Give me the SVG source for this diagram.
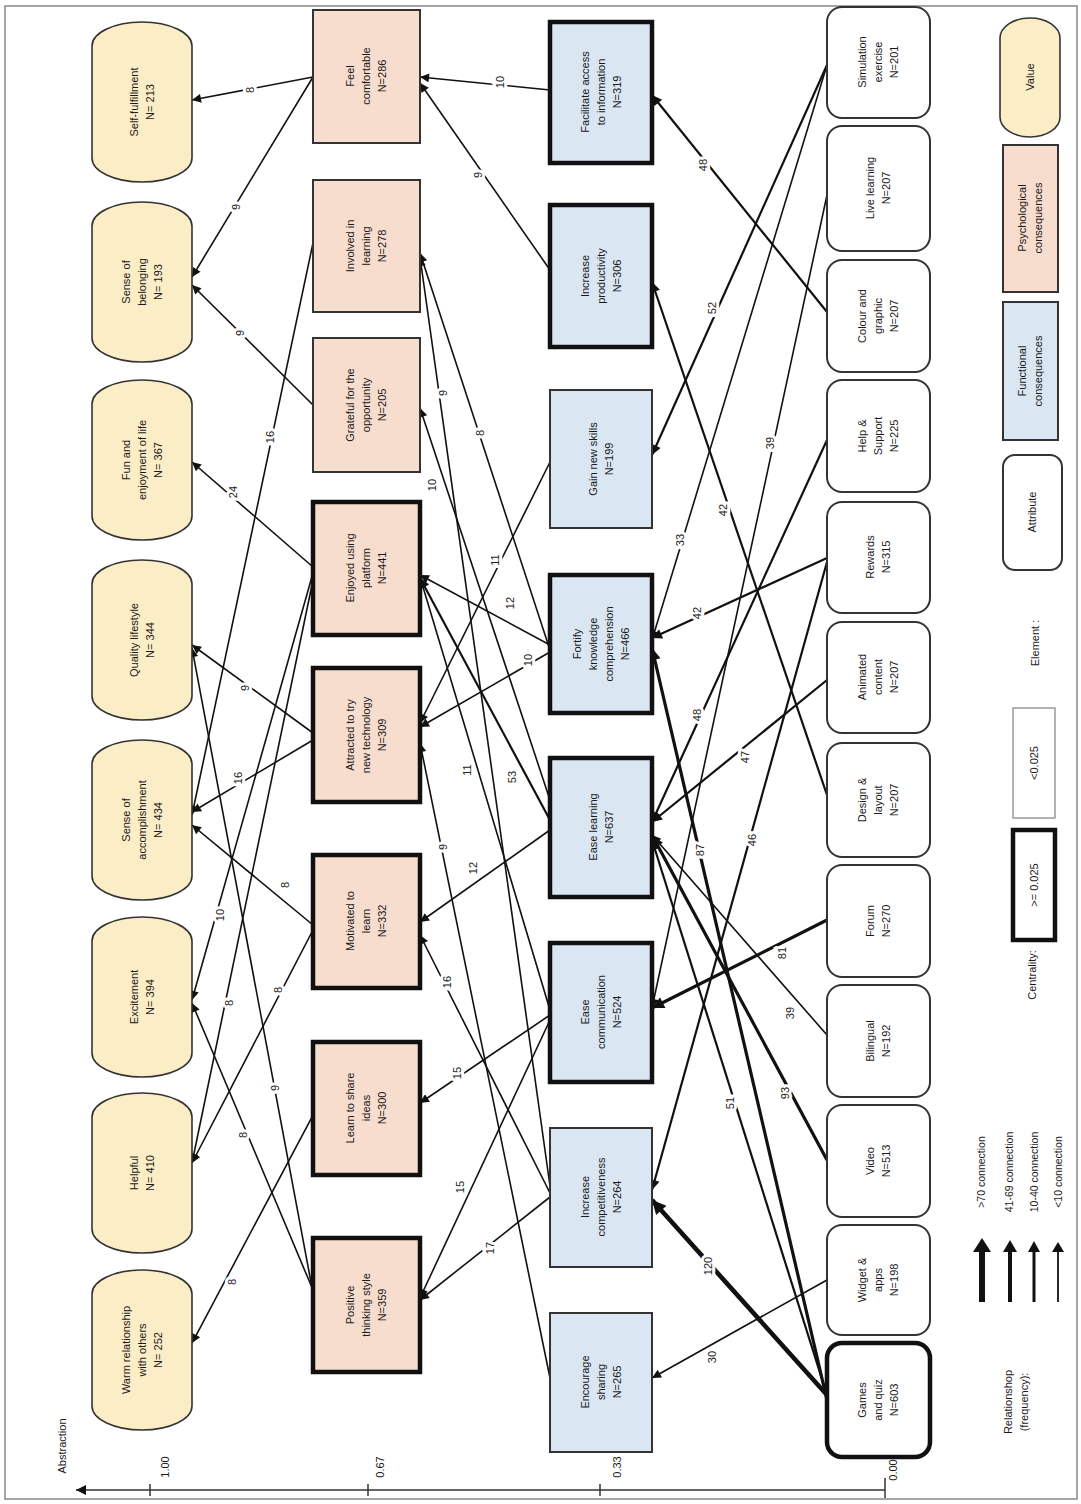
<svg xmlns="http://www.w3.org/2000/svg" width="1081" height="1504" viewBox="0 0 1081 1504">
<style>
text{font-family:"Liberation Sans",Arial,sans-serif;fill:#1a1a1a}
.nt{font-size:11px;text-anchor:middle}
.lb{font-size:11px;text-anchor:middle;stroke:#fff;stroke-width:6px;paint-order:stroke;fill:#222}
.val{fill:#FBEDC6;stroke:#333;stroke-width:1.6}
.psy{fill:#F7DDCD;stroke:#333;stroke-width:2}
.fun{fill:#DBE6F3;stroke:#333;stroke-width:2}
.att{fill:#fff;stroke:#333;stroke-width:2}
.bold{stroke:#111;stroke-width:4.5}
.c1{stroke:#111;stroke-width:1.6;fill:none;marker-end:url(#a1)}
.c2{stroke:#111;stroke-width:2.2;fill:none;marker-end:url(#a2)}
.c3{stroke:#111;stroke-width:3.2;fill:none;marker-end:url(#a3)}
.c4{stroke:#111;stroke-width:4.6;fill:none;marker-end:url(#a4)}
</style>
<defs>
<marker id="a1" viewBox="0 0 10 10" refX="10" refY="5" markerWidth="11" markerHeight="9" markerUnits="userSpaceOnUse" orient="auto"><path d="M0,0 L10,5 L0,10 z" fill="#111"/></marker>
<marker id="a2" viewBox="0 0 10 10" refX="10" refY="5" markerWidth="12" markerHeight="10" markerUnits="userSpaceOnUse" orient="auto"><path d="M0,0 L10,5 L0,10 z" fill="#111"/></marker>
<marker id="a3" viewBox="0 0 10 10" refX="10" refY="5" markerWidth="14" markerHeight="12" markerUnits="userSpaceOnUse" orient="auto"><path d="M0,0 L10,5 L0,10 z" fill="#111"/></marker>
<marker id="a4" viewBox="0 0 10 10" refX="10" refY="5" markerWidth="16" markerHeight="14" markerUnits="userSpaceOnUse" orient="auto"><path d="M0,0 L10,5 L0,10 z" fill="#111"/></marker>
</defs>
<rect x="0" y="0" width="1081" height="1504" fill="#fff"/>
<rect x="5" y="6" width="1072" height="1493" fill="none" stroke="#888" stroke-width="1.5"/>

<g id="connectors">
<!-- psychological -> values -->
<line class="c1" x1="313" y1="77" x2="192" y2="100"/><text class="lb" transform="translate(250,90) rotate(-90)" y="4">8</text>
<line class="c1" x1="313" y1="77" x2="192" y2="277"/><text class="lb" transform="translate(236,207) rotate(-90)" y="4">9</text>
<line class="c1" x1="313" y1="405" x2="192" y2="285"/><text class="lb" transform="translate(240,333) rotate(-90)" y="4">9</text>
<line class="c1" x1="313" y1="243" x2="192" y2="815"/><text class="lb" transform="translate(270,437) rotate(-90)" y="4">16</text>
<line class="c1" x1="313" y1="567" x2="192" y2="462"/><text class="lb" transform="translate(233,492) rotate(-90)" y="4">24</text>
<line class="c1" x1="313" y1="733" x2="192" y2="645"/><text class="lb" transform="translate(245,688) rotate(-90)" y="4">9</text>
<line class="c1" x1="313" y1="1293" x2="192" y2="648"/><text class="lb" transform="translate(275,1088) rotate(-90)" y="4">9</text>
<line class="c1" x1="313" y1="740" x2="192" y2="812"/><text class="lb" transform="translate(238,778) rotate(-90)" y="4">16</text>
<line class="c1" x1="313" y1="925" x2="192" y2="825"/><text class="lb" transform="translate(285,885) rotate(-90)" y="4">8</text>
<line class="c1" x1="313" y1="573" x2="192" y2="1000"/><text class="lb" transform="translate(220,915) rotate(-90)" y="4">10</text>
<line class="c1" x1="313" y1="580" x2="192" y2="1163"/><text class="lb" transform="translate(229,1003) rotate(-90)" y="4">8</text>
<line class="c1" x1="313" y1="930" x2="192" y2="1163"/><text class="lb" transform="translate(278,990) rotate(-90)" y="4">8</text>
<line class="c1" x1="313" y1="1290" x2="192" y2="1003"/><text class="lb" transform="translate(243,1135) rotate(-90)" y="4">8</text>
<line class="c1" x1="313" y1="1115" x2="192" y2="1343"/><text class="lb" transform="translate(232,1282) rotate(-90)" y="4">8</text>
<!-- functional -> psychological -->
<line class="c1" x1="550" y1="90" x2="420" y2="77"/><text class="lb" transform="translate(500,82) rotate(-90)" y="4">10</text>
<line class="c1" x1="550" y1="270" x2="420" y2="83"/><text class="lb" transform="translate(478,175) rotate(-90)" y="4">9</text>
<line class="c1" x1="550" y1="650" x2="420" y2="253"/><text class="lb" transform="translate(480,433) rotate(-90)" y="4">8</text>
<line class="c1" x1="550" y1="1186" x2="420" y2="257"/><text class="lb" transform="translate(443,393) rotate(-90)" y="4">9</text>
<line class="c1" x1="550" y1="800" x2="420" y2="408"/><text class="lb" transform="translate(432,485) rotate(-90)" y="4">10</text>
<line class="c1" x1="550" y1="462" x2="420" y2="723"/><text class="lb" transform="translate(495,560) rotate(-90)" y="4">11</text>
<line class="c1" x1="550" y1="645" x2="420" y2="575"/><text class="lb" transform="translate(510,603) rotate(-90)" y="4">12</text>
<line class="c1" x1="550" y1="652" x2="420" y2="727"/><text class="lb" transform="translate(528,660) rotate(-90)" y="4">10</text>
<line class="c1" x1="550" y1="1010" x2="420" y2="577"/><text class="lb" transform="translate(467,770) rotate(-90)" y="4">11</text>
<line class="c2" x1="550" y1="820" x2="420" y2="578"/><text class="lb" transform="translate(512,777) rotate(-90)" y="4">53</text>
<line class="c1" x1="550" y1="1378" x2="420" y2="743"/><text class="lb" transform="translate(443,847) rotate(-90)" y="4">9</text>
<line class="c1" x1="550" y1="830" x2="420" y2="922"/><text class="lb" transform="translate(473,868) rotate(-90)" y="4">12</text>
<line class="c1" x1="550" y1="1193" x2="420" y2="935"/><text class="lb" transform="translate(447,982) rotate(-90)" y="4">16</text>
<line class="c1" x1="550" y1="1015" x2="420" y2="1103"/><text class="lb" transform="translate(457,1073) rotate(-90)" y="4">15</text>
<line class="c1" x1="550" y1="1020" x2="420" y2="1298"/><text class="lb" transform="translate(460,1187) rotate(-90)" y="4">15</text>
<line class="c1" x1="550" y1="1197" x2="420" y2="1300"/><text class="lb" transform="translate(490,1248) rotate(-90)" y="4">17</text>
<!-- attributes -> functional -->
<line class="c2" x1="827" y1="312" x2="652" y2="95"/><text class="lb" transform="translate(703,165) rotate(-90)" y="4">48</text>
<line class="c2" x1="827" y1="795" x2="652" y2="282"/><text class="lb" transform="translate(723,510) rotate(-90)" y="4">42</text>
<line class="c2" x1="827" y1="65" x2="652" y2="455"/><text class="lb" transform="translate(712,308) rotate(-90)" y="4">52</text>
<line class="c1" x1="827" y1="65" x2="652" y2="640"/><text class="lb" transform="translate(680,540) rotate(-90)" y="4">33</text>
<line class="c2" x1="827" y1="558" x2="652" y2="638"/><text class="lb" transform="translate(697,613) rotate(-90)" y="4">42</text>
<line class="c3" x1="827" y1="1400" x2="652" y2="648"/><text class="lb" transform="translate(700,850) rotate(-90)" y="4">87</text>
<line class="c2" x1="827" y1="440" x2="652" y2="822"/><text class="lb" transform="translate(697,715) rotate(-90)" y="4">48</text>
<line class="c2" x1="827" y1="680" x2="652" y2="822"/><text class="lb" transform="translate(745,757) rotate(-90)" y="4">47</text>
<line class="c1" x1="827" y1="1035" x2="652" y2="835"/><text class="lb" transform="translate(790,1013) rotate(-90)" y="4">39</text>
<line class="c3" x1="827" y1="1160" x2="652" y2="835"/><text class="lb" transform="translate(785,1093) rotate(-90)" y="4">93</text>
<line class="c2" x1="827" y1="1395" x2="652" y2="840"/><text class="lb" transform="translate(730,1103) rotate(-90)" y="4">51</text>
<line class="c1" x1="827" y1="195" x2="652" y2="1008"/><text class="lb" transform="translate(770,443) rotate(-90)" y="4">39</text>
<line class="c3" x1="827" y1="920" x2="652" y2="1008"/><text class="lb" transform="translate(782,953) rotate(-90)" y="4">81</text>
<line class="c2" x1="827" y1="562" x2="652" y2="1190"/><text class="lb" transform="translate(752,840) rotate(-90)" y="4">46</text>
<line class="c4" x1="827" y1="1395" x2="652" y2="1200"/><text class="lb" transform="translate(708,1266) rotate(-90)" y="4">120</text>
<line class="c1" x1="827" y1="1280" x2="652" y2="1378"/><text class="lb" transform="translate(712,1357) rotate(-90)" y="4">30</text>
</g>

<!-- Values -->
<g id="v-self"><rect class="val" x="92" y="22" width="100" height="160" rx="50" ry="24"/><text class="nt" transform="translate(142,102) rotate(-90)"><tspan x="0" y="-4">Self-fulfillment</tspan><tspan x="0" y="12">N= 213</tspan></text></g>
<g id="v-belonging"><rect class="val" x="92" y="202" width="100" height="160" rx="50" ry="24"/><text class="nt" transform="translate(142,282) rotate(-90)"><tspan x="0" y="-12">Sense of</tspan><tspan x="0" y="4">belonging</tspan><tspan x="0" y="20">N= 193</tspan></text></g>
<g id="v-fun"><rect class="val" x="92" y="380" width="100" height="160" rx="50" ry="24"/><text class="nt" transform="translate(142,460) rotate(-90)"><tspan x="0" y="-12">Fun and</tspan><tspan x="0" y="4">enjoyment of life</tspan><tspan x="0" y="20">N= 367</tspan></text></g>
<g id="v-quality"><rect class="val" x="92" y="560" width="100" height="160" rx="50" ry="24"/><text class="nt" transform="translate(142,640) rotate(-90)"><tspan x="0" y="-4">Quality lifestyle</tspan><tspan x="0" y="12">N= 344</tspan></text></g>
<g id="v-accomplishment"><rect class="val" x="92" y="740" width="100" height="160" rx="50" ry="24"/><text class="nt" transform="translate(142,820) rotate(-90)"><tspan x="0" y="-12">Sense of</tspan><tspan x="0" y="4">accomplishment</tspan><tspan x="0" y="20">N= 434</tspan></text></g>
<g id="v-excitement"><rect class="val" x="92" y="917" width="100" height="160" rx="50" ry="24"/><text class="nt" transform="translate(142,997) rotate(-90)"><tspan x="0" y="-4">Excitement</tspan><tspan x="0" y="12">N= 394</tspan></text></g>
<g id="v-helpful"><rect class="val" x="92" y="1093" width="100" height="160" rx="50" ry="24"/><text class="nt" transform="translate(142,1173) rotate(-90)"><tspan x="0" y="-4">Helpful</tspan><tspan x="0" y="12">N= 410</tspan></text></g>
<g id="v-warm"><rect class="val" x="92" y="1270" width="100" height="160" rx="50" ry="24"/><text class="nt" transform="translate(142,1350) rotate(-90)"><tspan x="0" y="-12">Warm relationship</tspan><tspan x="0" y="4">with others</tspan><tspan x="0" y="20">N= 252</tspan></text></g>

<!-- Psychological consequences -->
<g id="p-feel"><rect class="psy" x="313" y="10" width="107" height="133"/><text class="nt" transform="translate(366,76) rotate(-90)"><tspan x="0" y="-12">Feel</tspan><tspan x="0" y="4">comfortable</tspan><tspan x="0" y="20">N=286</tspan></text></g>
<g id="p-involved"><rect class="psy" x="313" y="180" width="107" height="132"/><text class="nt" transform="translate(366,246) rotate(-90)"><tspan x="0" y="-12">Involved in</tspan><tspan x="0" y="4">learning</tspan><tspan x="0" y="20">N=278</tspan></text></g>
<g id="p-grateful"><rect class="psy" x="313" y="338" width="107" height="134"/><text class="nt" transform="translate(366,405) rotate(-90)"><tspan x="0" y="-12">Grateful for the</tspan><tspan x="0" y="4">opportunity</tspan><tspan x="0" y="20">N=205</tspan></text></g>
<g id="p-enjoyed"><rect class="psy bold" x="313" y="502" width="107" height="133"/><text class="nt" transform="translate(366,568) rotate(-90)"><tspan x="0" y="-12">Enjoyed using</tspan><tspan x="0" y="4">platform</tspan><tspan x="0" y="20">N=441</tspan></text></g>
<g id="p-attracted"><rect class="psy bold" x="313" y="668" width="107" height="134"/><text class="nt" transform="translate(366,735) rotate(-90)"><tspan x="0" y="-12">Attracted to try</tspan><tspan x="0" y="4">new technology</tspan><tspan x="0" y="20">N=309</tspan></text></g>
<g id="p-motivated"><rect class="psy bold" x="313" y="855" width="107" height="133"/><text class="nt" transform="translate(366,921) rotate(-90)"><tspan x="0" y="-12">Motivated to</tspan><tspan x="0" y="4">learn</tspan><tspan x="0" y="20">N=332</tspan></text></g>
<g id="p-share"><rect class="psy bold" x="313" y="1042" width="107" height="133"/><text class="nt" transform="translate(366,1108) rotate(-90)"><tspan x="0" y="-12">Learn to share</tspan><tspan x="0" y="4">ideas</tspan><tspan x="0" y="20">N=300</tspan></text></g>
<g id="p-positive"><rect class="psy bold" x="313" y="1238" width="107" height="134"/><text class="nt" transform="translate(366,1305) rotate(-90)"><tspan x="0" y="-12">Positive</tspan><tspan x="0" y="4">thinking style</tspan><tspan x="0" y="20">N=359</tspan></text></g>

<!-- Functional consequences -->
<g id="f-access"><rect class="fun bold" x="550" y="22" width="102" height="141"/><text class="nt" transform="translate(601,92) rotate(-90)"><tspan x="0" y="-12">Facilitate access</tspan><tspan x="0" y="4">to information</tspan><tspan x="0" y="20">N=319</tspan></text></g>
<g id="f-productivity"><rect class="fun bold" x="550" y="205" width="102" height="142"/><text class="nt" transform="translate(601,276) rotate(-90)"><tspan x="0" y="-12">Increase</tspan><tspan x="0" y="4">productivity</tspan><tspan x="0" y="20">N=306</tspan></text></g>
<g id="f-skills"><rect class="fun" x="550" y="390" width="102" height="138"/><text class="nt" transform="translate(601,459) rotate(-90)"><tspan x="0" y="-4">Gain new skills</tspan><tspan x="0" y="12">N=199</tspan></text></g>
<g id="f-fortify"><rect class="fun bold" x="550" y="575" width="102" height="138"/><text class="nt" transform="translate(601,644) rotate(-90)"><tspan x="0" y="-20">Fortify</tspan><tspan x="0" y="-4">knowledge</tspan><tspan x="0" y="12">comprehension</tspan><tspan x="0" y="28">N=466</tspan></text></g>
<g id="f-easelearning"><rect class="fun bold" x="550" y="758" width="102" height="139"/><text class="nt" transform="translate(601,827) rotate(-90)"><tspan x="0" y="-4">Ease learning</tspan><tspan x="0" y="12">N=637</tspan></text></g>
<g id="f-easecomm"><rect class="fun bold" x="550" y="943" width="102" height="139"/><text class="nt" transform="translate(601,1012) rotate(-90)"><tspan x="0" y="-12">Ease</tspan><tspan x="0" y="4">communication</tspan><tspan x="0" y="20">N=524</tspan></text></g>
<g id="f-competitiveness"><rect class="fun" x="550" y="1128" width="102" height="139"/><text class="nt" transform="translate(601,1197) rotate(-90)"><tspan x="0" y="-12">Increase</tspan><tspan x="0" y="4">competitiveness</tspan><tspan x="0" y="20">N=264</tspan></text></g>
<g id="f-sharing"><rect class="fun" x="550" y="1313" width="102" height="139"/><text class="nt" transform="translate(601,1382) rotate(-90)"><tspan x="0" y="-12">Encourage</tspan><tspan x="0" y="4">sharing</tspan><tspan x="0" y="20">N=265</tspan></text></g>

<!-- Attributes -->
<g id="a-simulation"><rect class="att" x="827" y="7" width="103" height="111" rx="15"/><text class="nt" transform="translate(878,62) rotate(-90)"><tspan x="0" y="-12">Simulation</tspan><tspan x="0" y="4">exercise</tspan><tspan x="0" y="20">N=201</tspan></text></g>
<g id="a-live"><rect class="att" x="827" y="126" width="103" height="125" rx="15"/><text class="nt" transform="translate(878,188) rotate(-90)"><tspan x="0" y="-4">Live learning</tspan><tspan x="0" y="12">N=207</tspan></text></g>
<g id="a-colour"><rect class="att" x="827" y="260" width="103" height="112" rx="15"/><text class="nt" transform="translate(878,316) rotate(-90)"><tspan x="0" y="-12">Colour and</tspan><tspan x="0" y="4">graphic</tspan><tspan x="0" y="20">N=207</tspan></text></g>
<g id="a-help"><rect class="att" x="827" y="380" width="103" height="112" rx="15"/><text class="nt" transform="translate(878,436) rotate(-90)"><tspan x="0" y="-12">Help &amp;</tspan><tspan x="0" y="4">Support</tspan><tspan x="0" y="20">N=225</tspan></text></g>
<g id="a-rewards"><rect class="att" x="827" y="502" width="103" height="111" rx="15"/><text class="nt" transform="translate(878,557) rotate(-90)"><tspan x="0" y="-4">Rewards</tspan><tspan x="0" y="12">N=315</tspan></text></g>
<g id="a-animated"><rect class="att" x="827" y="622" width="103" height="111" rx="15"/><text class="nt" transform="translate(878,677) rotate(-90)"><tspan x="0" y="-12">Animated</tspan><tspan x="0" y="4">content</tspan><tspan x="0" y="20">N=207</tspan></text></g>
<g id="a-design"><rect class="att" x="827" y="743" width="103" height="114" rx="15"/><text class="nt" transform="translate(878,800) rotate(-90)"><tspan x="0" y="-12">Design &amp;</tspan><tspan x="0" y="4">layout</tspan><tspan x="0" y="20">N=207</tspan></text></g>
<g id="a-forum"><rect class="att" x="827" y="865" width="103" height="112" rx="15"/><text class="nt" transform="translate(878,921) rotate(-90)"><tspan x="0" y="-4">Forum</tspan><tspan x="0" y="12">N=270</tspan></text></g>
<g id="a-bilingual"><rect class="att" x="827" y="985" width="103" height="112" rx="15"/><text class="nt" transform="translate(878,1041) rotate(-90)"><tspan x="0" y="-4">Bilingual</tspan><tspan x="0" y="12">N=192</tspan></text></g>
<g id="a-video"><rect class="att" x="827" y="1105" width="103" height="112" rx="15"/><text class="nt" transform="translate(878,1161) rotate(-90)"><tspan x="0" y="-4">Video</tspan><tspan x="0" y="12">N=513</tspan></text></g>
<g id="a-widget"><rect class="att" x="827" y="1225" width="103" height="110" rx="15"/><text class="nt" transform="translate(878,1280) rotate(-90)"><tspan x="0" y="-12">Widget &amp;</tspan><tspan x="0" y="4">apps</tspan><tspan x="0" y="20">N=198</tspan></text></g>
<g id="a-games"><rect class="att bold" x="827" y="1343" width="103" height="114" rx="15"/><text class="nt" transform="translate(878,1400) rotate(-90)"><tspan x="0" y="-12">Games</tspan><tspan x="0" y="4">and quiz</tspan><tspan x="0" y="20">N=603</tspan></text></g>

<!-- Legend -->
<g id="legend">
<rect class="val" x="1000" y="18" width="60" height="119" rx="30" ry="20"/><text class="nt" transform="translate(1030,77) rotate(-90)" y="4">Value</text>
<rect class="psy" x="1003" y="145" width="55" height="147"/><text class="nt" transform="translate(1030,218) rotate(-90)"><tspan x="0" y="-4">Psychological</tspan><tspan x="0" y="12">consequences</tspan></text>
<rect class="fun" x="1003" y="302" width="55" height="138"/><text class="nt" transform="translate(1030,371) rotate(-90)"><tspan x="0" y="-4">Functional</tspan><tspan x="0" y="12">consequences</tspan></text>
<rect class="att" x="1003" y="455" width="59" height="115" rx="12"/><text class="nt" transform="translate(1032,512) rotate(-90)" y="4">Attribute</text>
<text class="nt" transform="translate(1035,643) rotate(-90)" y="4">Element :</text>
<rect x="1013" y="708" width="42" height="110" fill="#fff" stroke="#999" stroke-width="1.5"/><text class="nt" transform="translate(1034,763) rotate(-90)" y="4">&lt;0.025</text>
<rect x="1013" y="830" width="42" height="110" fill="#fff" stroke="#111" stroke-width="4.5"/><text class="nt" transform="translate(1034,885) rotate(-90)" y="4">&gt;= 0.025</text>
<text class="nt" transform="translate(1032,975) rotate(-90)" y="4">Centrality:</text>
<line x1="982" y1="1302" x2="982" y2="1250" stroke="#111" stroke-width="6"/><path d="M973,1252 L982,1238 L991,1252 z" fill="#111"/>
<line x1="1010" y1="1302" x2="1010" y2="1250" stroke="#111" stroke-width="4"/><path d="M1003,1252 L1010,1240 L1017,1252 z" fill="#111"/>
<line x1="1034" y1="1302" x2="1034" y2="1250" stroke="#111" stroke-width="3"/><path d="M1028,1252 L1034,1241 L1040,1252 z" fill="#111"/>
<line x1="1058" y1="1302" x2="1058" y2="1250" stroke="#111" stroke-width="1.8"/><path d="M1052,1252 L1058,1242 L1064,1252 z" fill="#111"/>
<text class="nt" style="font-size:10.5px" transform="translate(981,1172) rotate(-90)" y="4">&gt;70 connection</text>
<text class="nt" style="font-size:10.5px" transform="translate(1009,1172) rotate(-90)" y="4">41-69  connection</text>
<text class="nt" style="font-size:10.5px" transform="translate(1034,1172) rotate(-90)" y="4">10-40 connection</text>
<text class="nt" style="font-size:10.5px" transform="translate(1058,1172) rotate(-90)" y="4">&lt;10 connection</text>
<text class="nt" transform="translate(1016,1402) rotate(-90)"><tspan x="0" y="-4">Relationshop</tspan><tspan x="0" y="12">(frequency):</tspan></text>
</g>

<!-- Axis -->
<g id="axis">
<line x1="885" y1="1490" x2="76" y2="1490" stroke="#333" stroke-width="1.6" marker-end="url(#a2)"/>
<line x1="150" y1="1484" x2="150" y2="1496" stroke="#333" stroke-width="1.5"/>
<line x1="368" y1="1484" x2="368" y2="1496" stroke="#333" stroke-width="1.5"/>
<line x1="600" y1="1484" x2="600" y2="1496" stroke="#333" stroke-width="1.5"/>
<line x1="885" y1="1478" x2="885" y2="1498" stroke="#333" stroke-width="1.5"/>
<text class="nt" transform="translate(165,1467) rotate(-90)" y="4">1.00</text>
<text class="nt" transform="translate(380,1467) rotate(-90)" y="4">0.67</text>
<text class="nt" transform="translate(617,1467) rotate(-90)" y="4">0.33</text>
<text class="nt" transform="translate(893,1470) rotate(-90)" y="4">0.00</text>
<text class="nt" transform="translate(62,1446) rotate(-90)" y="4">Abstraction</text>
</g>
</svg>
